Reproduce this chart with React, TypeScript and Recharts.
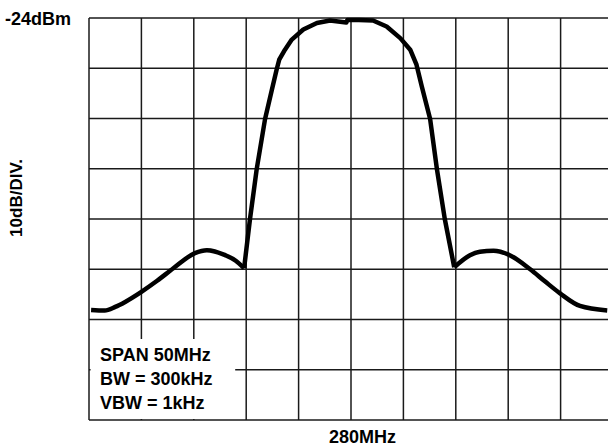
import React from 'react'
import { LineChart, Line, XAxis, YAxis, CartesianGrid, ReferenceArea } from 'recharts'

// frequency position in divisions (0 = left edge, 10 = right edge, centre 280MHz at 5)
const freqDiv = [
  0.04, 0.3, 0.5, 0.69, 1.0, 1.3, 1.61, 2.02, 2.25, 2.6, 2.8, 2.96,
  3.07, 3.2, 3.36, 3.49, 3.58, 3.63, 3.74, 3.87, 4.09, 4.35, 4.6, 4.91, 4.93,
  5.15, 5.42, 5.68, 5.94, 6.13, 6.25, 6.35, 6.51, 6.64, 6.79, 6.97,
  7.27, 7.46, 7.72, 8.03, 8.42, 8.7, 8.99, 9.37, 9.89,
]

// level in dBm (top of screen -24dBm, 10dB/div)
const levelDbm = [
  -82.1, -82.2, -81.5, -80.5, -78.5, -76.3, -73.8, -70.8, -70.2, -71.2, -72.3, -73.8,
  -64.2, -54.1, -44.1, -38.3, -34.3, -32.3, -30.3, -28.3, -26.3, -25.0, -24.5, -24.9, -24.4,
  -24.4, -24.5, -25.7, -28.0, -30.3, -33.3, -37.6, -44.1, -54.1, -64.0, -73.6,
  -71.2, -70.5, -70.3, -71.2, -74.0, -76.4, -78.8, -81.3, -82.2,
]

// index of the two notches where the main lobe meets the side lobes
const leftNotch = 11
const rightNotch = 35

const xTicks = [0, 1, 2, 3, 4, 5, 6, 7, 8, 9, 10]
const yTicks = [-104, -94, -84, -74, -64, -54, -44, -34, -24]

const infoLines = ['SPAN 50MHz', 'BW = 300kHz', 'VBW = 1kHz']

const data = freqDiv.map((d, i) => ({
  d,
  left: i <= leftNotch ? levelDbm[i] : null,
  main: i >= leftNotch && i <= rightNotch ? levelDbm[i] : null,
  right: i >= rightNotch ? levelDbm[i] : null,
}))

const font = '"Liberation Sans", Arial, sans-serif'

const traceProps = {
  stroke: '#000',
  strokeWidth: 4.5,
  strokeLinejoin: 'round' as const,
  dot: false,
  isAnimationActive: false,
}

export default function App() {
  return (
    <div
      style={{
        position: 'fixed',
        left: 0,
        top: 0,
        width: 608,
        height: 447,
        overflow: 'hidden',
        background: '#fff',
      }}
    >
      <LineChart
        width={620}
        height={447}
        data={data}
        margin={{ top: 18, right: 7, bottom: 27, left: 89 }}
      >
        <CartesianGrid stroke="#1a1a1a" strokeWidth={1.5} />
        <XAxis dataKey="d" type="number" domain={[0, 10]} ticks={xTicks} hide />
        <YAxis type="number" domain={[-104, -24]} ticks={yTicks} hide />
        {/* white box behind the settings text */}
        <ReferenceArea
          x1={0.03}
          x2={2.79}
          y1={-103.8}
          y2={-87.9}
          fill="#fff"
          fillOpacity={1}
          stroke="none"
        />
        <Line dataKey="left" type="monotone" {...traceProps} />
        <Line dataKey="main" type="linear" {...traceProps} />
        <Line dataKey="right" type="monotone" {...traceProps} />
      </LineChart>

      <svg
        width={608}
        height={447}
        style={{ position: 'absolute', left: 0, top: 0, pointerEvents: 'none' }}
      >
        <g fontFamily={font} fontWeight="bold" fontSize={18} fill="#000">
          <text x={5} y={25}>-24dBm</text>
          <text x={329} y={443}>280MHz</text>
          <text x={22} y={198} textAnchor="middle" transform="rotate(-90 22 198)" fontSize={17}>
            10dB/DIV.
          </text>
          {infoLines.map((t, i) => (
            <text key={t} x={100} y={361 + i * 24}>{t}</text>
          ))}
        </g>
      </svg>
    </div>
  )
}
